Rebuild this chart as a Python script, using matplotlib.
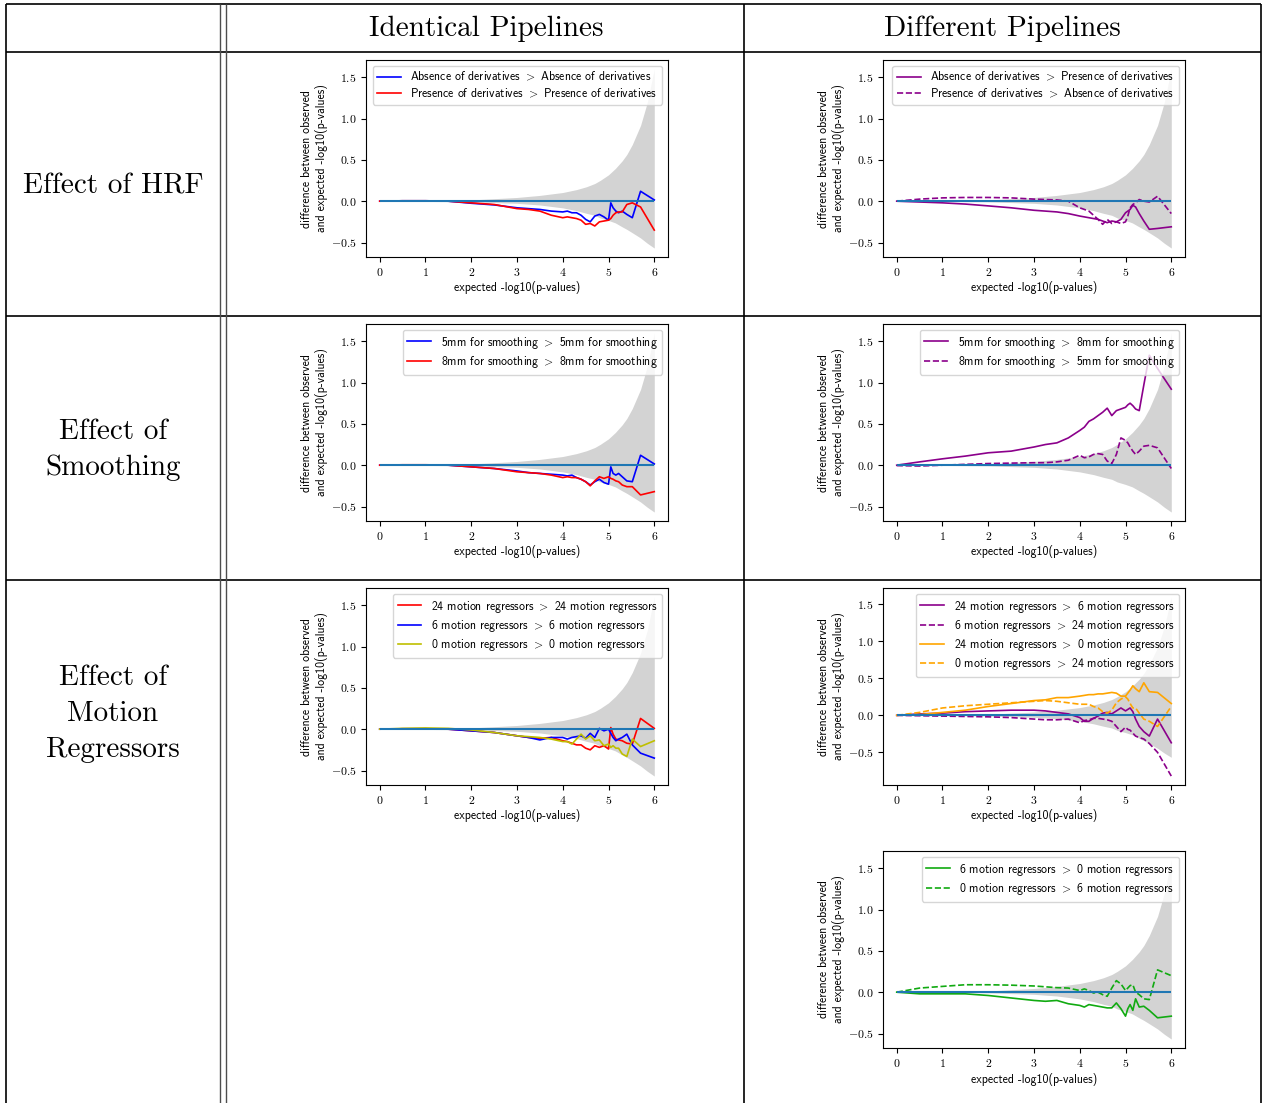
import matplotlib
matplotlib.use('Agg')
import matplotlib.pyplot as plt
from matplotlib.ticker import FuncFormatter

plt.rcParams['font.family'] = 'cmss10'
plt.rcParams['mathtext.fontset'] = 'cm'
plt.rcParams['mathtext.default'] = 'rm'

# expected -log10(p) grid the curves are read on
x = [0, 0.5, 1, 1.5, 2, 2.5, 3, 3.25, 3.5, 3.75, 4.0, 4.1, 4.2, 4.3, 4.4,
     4.5, 4.6, 4.7, 4.8, 4.9, 5.0, 5.05, 5.1, 5.16, 5.22, 5.3, 5.4, 5.52, 5.7, 6.0]

# grey confidence band
band_x = [0, 1, 2, 3, 3.5, 4, 4.3, 4.52, 4.7, 4.82, 5.0, 5.15, 5.3, 5.4, 5.52, 5.7, 5.85, 6.0]
band_hi = [0, 0.004, 0.015, 0.045, 0.07, 0.105, 0.14, 0.175, 0.214, 0.252, 0.319, 0.396, 0.489,
           0.565, 0.686, 0.917, 1.2, 1.6]
band_lo = [0, -0.003, -0.008, -0.026, -0.046, -0.081, -0.114, -0.147, -0.171, -0.203, -0.233,
           -0.263, -0.311, -0.341, -0.382, -0.445, -0.51, -0.567]

# HRF
hrf_abs_abs = [0, 0.005, 0.005, 0.0, -0.025, -0.045, -0.08, -0.09, -0.1, -0.12, -0.13, -0.12, -0.14, -0.14, -0.17,
               -0.22, -0.25, -0.18, -0.16, -0.19, -0.23, -0.02, -0.08, -0.12, -0.14, -0.12, -0.16, -0.2, 0.12, 0.015]
hrf_pres_pres = [0, 0.005, 0.005, 0.0, -0.02, -0.04, -0.09, -0.1, -0.12, -0.17, -0.2, -0.19, -0.2, -0.21, -0.23,
                 -0.28, -0.27, -0.3, -0.25, -0.24, -0.23, -0.21, -0.17, -0.14, -0.13, -0.13, -0.04, -0.02, -0.07, -0.35]
hrf_abs_pres = [0, -0.01, -0.02, -0.035, -0.057, -0.08, -0.11, -0.12, -0.13, -0.15, -0.18, -0.19, -0.2, -0.21, -0.22,
                -0.24, -0.26, -0.24, -0.25, -0.22, -0.14, -0.12, -0.1, -0.05, -0.07, -0.15, -0.24, -0.34, -0.33, -0.31]
hrf_pres_abs = [0, 0.025, 0.04, 0.045, 0.045, 0.04, 0.025, 0.02, 0.015, 0.0, -0.08, -0.1, -0.12, -0.17, -0.22,
                -0.28, -0.22, -0.27, -0.25, -0.27, -0.25, -0.18, -0.08, -0.04, -0.02, 0.02, 0.0, -0.01, 0.06, -0.15]

# smoothing
sm_5_5 = [0, 0.003, 0.003, 0.0, -0.02, -0.04, -0.07, -0.09, -0.1, -0.11, -0.12, -0.13, -0.12, -0.15, -0.17,
          -0.2, -0.24, -0.2, -0.17, -0.21, -0.23, -0.02, -0.1, -0.12, -0.1, -0.14, -0.19, -0.2, 0.12, 0.015]
sm_8_8 = [0, 0.005, 0.005, 0.0, -0.02, -0.04, -0.08, -0.09, -0.1, -0.12, -0.15, -0.14, -0.15, -0.15, -0.17,
          -0.2, -0.25, -0.19, -0.14, -0.16, -0.14, -0.16, -0.17, -0.19, -0.2, -0.24, -0.26, -0.26, -0.36, -0.32]
sm_5_8 = [0, 0.04, 0.077, 0.11, 0.15, 0.17, 0.22, 0.25, 0.27, 0.33, 0.42, 0.46, 0.53, 0.56, 0.6,
          0.64, 0.69, 0.6, 0.66, 0.68, 0.7, 0.73, 0.75, 0.72, 0.68, 0.66, 0.97, 1.33, 1.17, 0.92]
sm_8_5 = [-0.005, -0.01, 0.0, 0.01, 0.02, 0.025, 0.03, 0.03, 0.04, 0.06, 0.12, 0.09, 0.1, 0.13, 0.14,
          0.13, 0.05, 0.02, 0.13, 0.33, 0.3, 0.27, 0.22, 0.17, 0.13, 0.17, 0.23, 0.24, 0.21, -0.04]

# motion regressors
mo_24_24 = [0, 0.005, 0.005, 0.0, -0.02, -0.04, -0.08, -0.1, -0.11, -0.1, -0.14, -0.15, -0.17, -0.19, -0.19,
            -0.23, -0.25, -0.2, -0.22, -0.2, -0.24, 0.02, -0.06, -0.12, -0.13, -0.14, -0.17, -0.18, 0.13, 0.01]
mo_6_6 = [0, 0.005, 0.005, 0.0, -0.02, -0.04, -0.08, -0.1, -0.13, -0.1, -0.1, -0.12, -0.1, -0.09, -0.08,
          -0.11, -0.05, -0.1, 0.01, -0.02, 0.0, -0.05, -0.1, -0.14, -0.12, -0.1, -0.06, -0.19, -0.29, -0.35]
mo_0_0 = [0, 0.01, 0.015, 0.01, -0.01, -0.04, -0.08, -0.09, -0.1, -0.12, -0.15, -0.15, -0.18, -0.12, -0.06,
          -0.12, -0.08, -0.14, -0.13, -0.2, -0.18, -0.22, -0.2, -0.23, -0.23, -0.3, -0.33, -0.12, -0.21, -0.14]
mo_24_6 = [0, 0.02, 0.03, 0.05, 0.06, 0.07, 0.07, 0.06, 0.04, 0.02, -0.03, -0.08, -0.08, -0.04, -0.01,
           0.03, 0.04, 0.02, 0.06, 0.1, 0.06, 0.08, 0.1, 0.05, -0.05, -0.15, -0.22, -0.28, -0.05, -0.37]
mo_6_24 = [0, -0.005, -0.01, -0.015, -0.02, -0.03, -0.05, -0.06, -0.06, -0.05, -0.1, -0.07, -0.06, -0.04, -0.04,
           -0.05, -0.06, -0.08, -0.15, -0.22, -0.16, -0.19, -0.2, -0.24, -0.28, -0.3, -0.32, -0.38, -0.5, -0.82]
mo_24_0 = [0, 0.01, 0.04, 0.07, 0.12, 0.16, 0.2, 0.21, 0.24, 0.24, 0.26, 0.27, 0.28, 0.28, 0.29,
           0.29, 0.3, 0.31, 0.3, 0.26, 0.26, 0.3, 0.34, 0.4, 0.36, 0.32, 0.44, 0.32, 0.31, 0.16]
mo_0_24 = [0, 0.04, 0.1, 0.13, 0.15, 0.17, 0.19, 0.2, 0.19, 0.17, 0.15, 0.15, 0.15, 0.12, 0.1,
           0.05, 0.03, 0.07, 0.17, 0.22, 0.25, 0.22, 0.16, 0.1, 0.1, 0.03, -0.05, -0.08, -0.15, 0.12]
mo_6_0 = [0, -0.02, -0.02, -0.02, -0.04, -0.07, -0.1, -0.11, -0.1, -0.14, -0.16, -0.18, -0.15, -0.16, -0.17,
          -0.18, -0.19, -0.19, -0.13, -0.2, -0.29, -0.2, -0.15, -0.22, -0.08, -0.18, -0.17, -0.22, -0.31, -0.29]
mo_0_6 = [0, 0.05, 0.07, 0.09, 0.09, 0.085, 0.075, 0.065, 0.055, 0.05, 0.02, 0.04, 0.02, -0.01, 0.0,
          -0.03, -0.05, 0.05, 0.14, 0.1, 0.02, 0.05, 0.08, 0.09, 0.0, -0.03, -0.08, -0.09, 0.27, 0.2]

col_titles = ['Identical Pipelines', 'Different Pipelines']
row_titles = ['Effect of HRF', 'Effect of\nSmoothing', 'Effect of\nMotion\nRegressors']

W, H = 1264, 1103
fig = plt.figure(figsize=(W / 100, H / 100), dpi=100)

# table grid drawn in pixel coordinates
bg = fig.add_axes([0, 0, 1, 1])
bg.set_xlim(0, W)
bg.set_ylim(H, 0)
bg.axis('off')
bg.hlines([4, 52, 316, 580], 6, 1261, color='k', lw=1.2)
bg.vlines([6, 744, 1261], 4, H, color='k', lw=1.2)
bg.vlines([220, 226], 4, H, color='0.3', lw=1.0)

bg.text(486, 29, col_titles[0], family='cmr10', fontsize=21, ha='center', va='center')
bg.text(1002, 29, col_titles[1], family='cmr10', fontsize=21, ha='center', va='center')
for yc, t in zip([186, 450, 714], row_titles):
    bg.text(113, yc, t, family='cmr10', fontsize=21, ha='center', va='center',
            linespacing=1.47, multialignment='center')

G = ' $>$ '
fmt_x = FuncFormatter(lambda v, p: '$%d$' % round(v))
fmt_y = FuncFormatter(lambda v, p: '$%.1f$' % v)


def panel(left, top, series):
    ax = fig.add_axes([left / W, 1 - (top + 197) / H, 302 / W, 197 / H])
    ax.fill_between(band_x, band_lo, band_hi, color='lightgrey', lw=0)
    for y, c, ls, lab in series:
        ax.plot(x, y, color=c, ls=ls, lw=1.2, label=lab)
    ax.hlines(0, x[0], x[-1], color='#1f77b4', lw=1.5)
    ax.set_xticks(range(7))
    ax.xaxis.set_major_formatter(fmt_x)
    ax.yaxis.set_major_formatter(fmt_y)
    ax.tick_params(labelsize=8.5)
    ax.set_xlabel('expected -log10(p-values)', fontsize=8.5, labelpad=2)
    ax.set_ylabel('difference between observed\nand expected -log10(p-values)', fontsize=8.5, labelpad=2)
    ax.legend(loc='upper right', fontsize=8.5, labelspacing=0.27)
    return ax


AD, PD = 'Absence of derivatives', 'Presence of derivatives'
panel(366, 60, [(hrf_abs_abs, 'b', '-', AD + G + AD),
                (hrf_pres_pres, 'r', '-', PD + G + PD)])
panel(883, 60, [(hrf_abs_pres, 'darkmagenta', '-', AD + G + PD),
                (hrf_pres_abs, 'darkmagenta', '--', PD + G + AD)])

S5, S8 = '5mm for smoothing', '8mm for smoothing'
panel(366, 324, [(sm_5_5, 'b', '-', S5 + G + S5),
                 (sm_8_8, 'r', '-', S8 + G + S8)])
panel(883, 324, [(sm_5_8, 'darkmagenta', '-', S5 + G + S8),
                 (sm_8_5, 'darkmagenta', '--', S8 + G + S5)])

M24, M6, M0 = '24 motion regressors', '6 motion regressors', '0 motion regressors'
panel(366, 588, [(mo_24_24, 'r', '-', M24 + G + M24),
                 (mo_6_6, 'b', '-', M6 + G + M6),
                 (mo_0_0, 'y', '-', M0 + G + M0)])
panel(883, 588, [(mo_24_6, 'darkmagenta', '-', M24 + G + M6),
                 (mo_6_24, 'darkmagenta', '--', M6 + G + M24),
                 (mo_24_0, 'orange', '-', M24 + G + M0),
                 (mo_0_24, 'orange', '--', M0 + G + M24)])
panel(883, 851, [(mo_6_0, '#11aa11', '-', M6 + G + M0),
                 (mo_0_6, '#11aa11', '--', M0 + G + M6)])

fig.savefig('out.png', dpi=100)
